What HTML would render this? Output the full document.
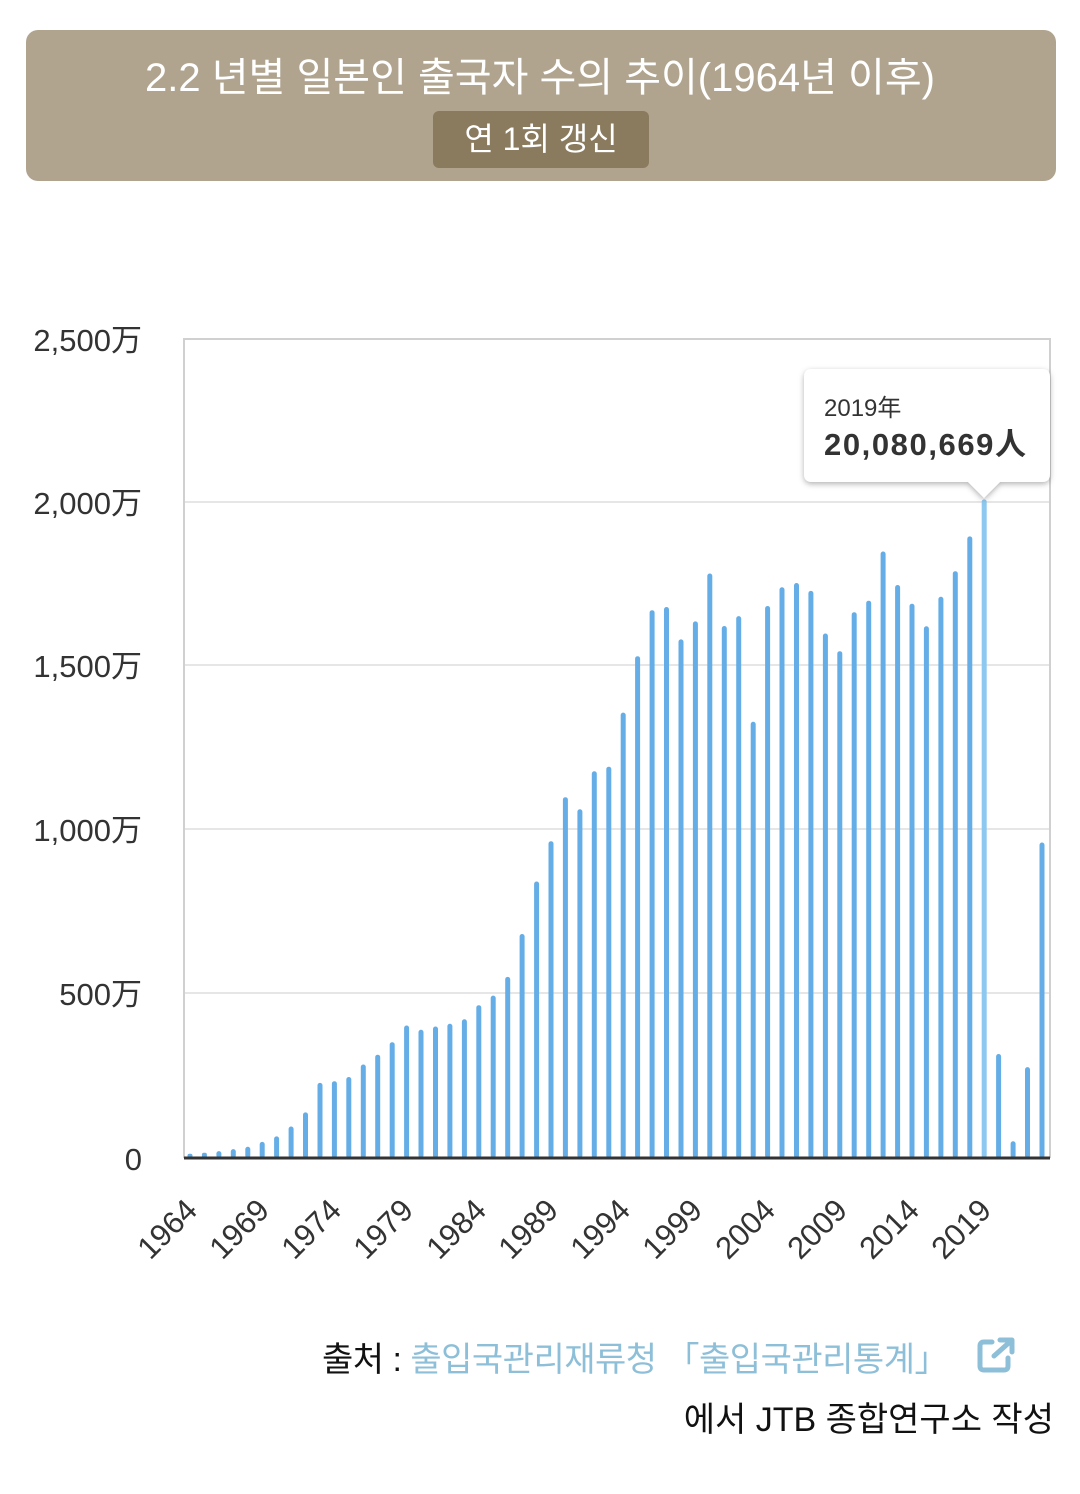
<!DOCTYPE html>
<html><head><meta charset="utf-8"><style>
body{margin:0;background:#fff;width:1080px;height:1494px;overflow:hidden;font-family:"Liberation Sans","Noto Sans CJK KR",sans-serif}
.hd{position:absolute;left:26px;top:30px;width:1030px;height:151px;background:#b0a48f;border-radius:12px}
.t{position:absolute;top:52px;left:0;width:100%;text-align:center;color:#fff;font-size:40px;line-height:52px}
.bd{position:absolute;left:433px;top:111px;width:216px;height:57px;background:#8a7a5e;border-radius:6px;color:#fff;font-size:32px;line-height:57px;text-align:center}
.src{position:absolute;right:132px;top:1332px;font-size:34px;letter-spacing:-0.5px;color:#111;white-space:nowrap}
.src span{color:#8ebfd8}
.src2{position:absolute;right:26px;top:1392px;font-size:34px;color:#111;white-space:nowrap}
</style></head><body>
<div class="hd"></div>
<div class="t">2.2 년별 일본인 출국자 수의 추이(1964년 이후)</div>
<div class="bd">연 1회 갱신</div>
<svg width="1080" height="1494" style="position:absolute;left:0;top:0" xmlns="http://www.w3.org/2000/svg">
<defs><filter id="sh" x="-20%" y="-20%" width="140%" height="150%"><feDropShadow dx="0" dy="2" stdDeviation="3" flood-color="#000" flood-opacity="0.3"/></filter></defs>
<g stroke="#e6e6e6" stroke-width="2">
<line x1="184" y1="502" x2="1050" y2="502"/><line x1="184" y1="665" x2="1050" y2="665"/><line x1="184" y1="829" x2="1050" y2="829"/><line x1="184" y1="993" x2="1050" y2="993"/>
</g>
<path d="M184 1158 V339 H1050 V1158" fill="none" stroke="#d0d0d0" stroke-width="2"/>
<g font-size="31" fill="#333" text-anchor="end">
<text x="142" y="351">2,500万</text><text x="142" y="514">2,000万</text><text x="142" y="677">1,500万</text><text x="142" y="841">1,000万</text><text x="142" y="1005">500万</text><text x="142" y="1170">0</text>
</g>
<g fill="#65ade6">
<rect x="187.5" y="1153.7" width="5" height="4.3" rx="2"/>
<rect x="201.9" y="1152.8" width="5" height="5.2" rx="2"/>
<rect x="216.4" y="1151.1" width="5" height="6.9" rx="2.5"/>
<rect x="230.8" y="1149.1" width="5" height="8.9" rx="2.5"/>
<rect x="245.3" y="1146.8" width="5" height="11.2" rx="2.5"/>
<rect x="259.7" y="1141.9" width="5" height="16.1" rx="2.5"/>
<rect x="274.1" y="1136.4" width="5" height="21.6" rx="2.5"/>
<rect x="288.6" y="1126.5" width="5" height="31.5" rx="2.5"/>
<rect x="303.0" y="1112.4" width="5" height="45.6" rx="2.5"/>
<rect x="317.5" y="1082.9" width="5" height="75.1" rx="2.5"/>
<rect x="331.9" y="1081.2" width="5" height="76.8" rx="2.5"/>
<rect x="346.3" y="1077.0" width="5" height="81" rx="2.5"/>
<rect x="360.8" y="1064.5" width="5" height="93.5" rx="2.5"/>
<rect x="375.2" y="1054.7" width="5" height="103.3" rx="2.5"/>
<rect x="389.7" y="1042.2" width="5" height="115.8" rx="2.5"/>
<rect x="404.1" y="1025.5" width="5" height="132.5" rx="2.5"/>
<rect x="418.5" y="1029.8" width="5" height="128.2" rx="2.5"/>
<rect x="433.0" y="1026.5" width="5" height="131.5" rx="2.5"/>
<rect x="447.4" y="1023.8" width="5" height="134.2" rx="2.5"/>
<rect x="461.9" y="1019.3" width="5" height="138.7" rx="2.5"/>
<rect x="476.3" y="1005.2" width="5" height="152.8" rx="2.5"/>
<rect x="490.7" y="995.6" width="5" height="162.4" rx="2.5"/>
<rect x="505.2" y="976.9" width="5" height="181.1" rx="2.5"/>
<rect x="519.6" y="934.0" width="5" height="224" rx="2.5"/>
<rect x="534.1" y="881.5" width="5" height="276.5" rx="2.5"/>
<rect x="548.5" y="841.2" width="5" height="316.8" rx="2.5"/>
<rect x="562.9" y="797.2" width="5" height="360.8" rx="2.5"/>
<rect x="577.4" y="809.3" width="5" height="348.7" rx="2.5"/>
<rect x="591.8" y="771.3" width="5" height="386.7" rx="2.5"/>
<rect x="606.3" y="766.7" width="5" height="391.3" rx="2.5"/>
<rect x="620.7" y="712.6" width="5" height="445.4" rx="2.5"/>
<rect x="635.1" y="656.2" width="5" height="501.8" rx="2.5"/>
<rect x="649.6" y="610.2" width="5" height="547.8" rx="2.5"/>
<rect x="664.0" y="607.0" width="5" height="551" rx="2.5"/>
<rect x="678.5" y="639.4" width="5" height="518.6" rx="2.5"/>
<rect x="692.9" y="621.4" width="5" height="536.6" rx="2.5"/>
<rect x="707.3" y="573.5" width="5" height="584.5" rx="2.5"/>
<rect x="721.8" y="626.0" width="5" height="532" rx="2.5"/>
<rect x="736.2" y="616.1" width="5" height="541.9" rx="2.5"/>
<rect x="750.7" y="721.8" width="5" height="436.2" rx="2.5"/>
<rect x="765.1" y="606.0" width="5" height="552" rx="2.5"/>
<rect x="779.5" y="587.3" width="5" height="570.7" rx="2.5"/>
<rect x="794.0" y="583.0" width="5" height="575" rx="2.5"/>
<rect x="808.4" y="590.9" width="5" height="567.1" rx="2.5"/>
<rect x="822.9" y="633.5" width="5" height="524.5" rx="2.5"/>
<rect x="837.3" y="651.2" width="5" height="506.8" rx="2.5"/>
<rect x="851.7" y="612.2" width="5" height="545.8" rx="2.5"/>
<rect x="866.2" y="600.7" width="5" height="557.3" rx="2.5"/>
<rect x="880.6" y="551.5" width="5" height="606.5" rx="2.5"/>
<rect x="895.1" y="585.0" width="5" height="573" rx="2.5"/>
<rect x="909.5" y="603.7" width="5" height="554.3" rx="2.5"/>
<rect x="923.9" y="626.3" width="5" height="531.7" rx="2.5"/>
<rect x="938.4" y="596.8" width="5" height="561.2" rx="2.5"/>
<rect x="952.8" y="571.2" width="5" height="586.8" rx="2.5"/>
<rect x="967.3" y="536.4" width="5" height="621.6" rx="2.5"/>
<rect x="981.7" y="499.4" width="5" height="658.6" rx="2.5" fill="#8cc8f0"/>
<rect x="996.1" y="1054.0" width="5" height="104" rx="2.5"/>
<rect x="1010.6" y="1141.3" width="5" height="16.7" rx="2.5"/>
<rect x="1025.0" y="1067.1" width="5" height="90.9" rx="2.5"/>
<rect x="1039.5" y="842.5" width="5" height="315.5" rx="2.5"/>
</g>
<line x1="184" y1="1158" x2="1050" y2="1158" stroke="#333" stroke-width="3"/>
<g font-size="31" fill="#333" text-anchor="end">
<text transform="translate(199,1212) rotate(-45)">1964</text>
<text transform="translate(271,1212) rotate(-45)">1969</text>
<text transform="translate(343,1212) rotate(-45)">1974</text>
<text transform="translate(415,1212) rotate(-45)">1979</text>
<text transform="translate(488,1212) rotate(-45)">1984</text>
<text transform="translate(560,1212) rotate(-45)">1989</text>
<text transform="translate(632,1212) rotate(-45)">1994</text>
<text transform="translate(704,1212) rotate(-45)">1999</text>
<text transform="translate(777,1212) rotate(-45)">2004</text>
<text transform="translate(849,1212) rotate(-45)">2009</text>
<text transform="translate(921,1212) rotate(-45)">2014</text>
<text transform="translate(993,1212) rotate(-45)">2019</text>
</g>
<path d="M812 369 H1042 Q1050 369 1050 377 V474 Q1050 482 1042 482 H1000 L984 498 L968 482 H812 Q804 482 804 474 V377 Q804 369 812 369 Z" fill="#fff" filter="url(#sh)"/>
<text x="824" y="416" font-size="24" fill="#333">2019年</text>
<text x="824" y="455" font-size="31" font-weight="bold" fill="#333" textLength="202">20,080,669人</text>
<g transform="translate(978,1338)" fill="none" stroke="#8ebfd8" stroke-width="5" stroke-linecap="round" stroke-linejoin="round">
<path d="M14 4 H6 Q2 4 2 8 V28 Q2 32 6 32 H26 Q30 32 30 28 V20"/>
<path d="M16 18 L34 2 M22 2 H34 V14"/>
</g>
</svg>
<div class="src">출처 : <span>출입국관리재류청 「출입국관리통계」</span></div>
<div class="src2">에서 JTB 종합연구소 작성</div>
</body></html>
